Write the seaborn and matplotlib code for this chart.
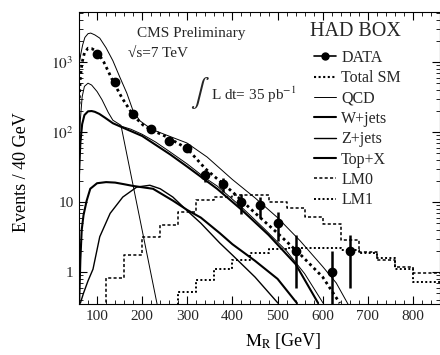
import seaborn as sns
import matplotlib.pyplot as plt
from matplotlib.lines import Line2D
from matplotlib.ticker import MultipleLocator, LogLocator, FuncFormatter, NullFormatter

sns.set_theme(style="ticks", rc={"xtick.direction": "in", "ytick.direction": "in"})
plt.rcParams['font.family'] = ['Liberation Serif', 'DejaVu Serif']
plt.rcParams['mathtext.fontset'] = 'stix'

# data points (M_R bin centres, events, sqrt(N) errors)
mr_data = [100, 140, 180, 220, 260, 300, 340, 380, 420, 460, 500, 540, 620, 660]
n_data = [1300, 520, 180, 110, 75, 59, 24, 18, 10, 9, 5, 2, 1, 2]
n_err = [36, 23, 13.4, 10.5, 8.7, 7.7, 4.9, 4.2, 3.2, 3.0, 2.2, 1.4, 0.999, 1.4]

# total SM prediction and its band edges
sm_x = [60, 63, 67, 72, 80, 88, 100, 115, 135, 155, 173, 190, 202, 220, 255, 300, 340, 400, 450, 500, 550, 600, 638]
sm_y = [250, 600, 1000, 1350, 1580, 1560, 1420, 1000, 540, 310, 205, 150, 126, 108, 85, 58, 30, 14, 7, 3.6, 1.8, 0.85, 0.36]
up_x = [60, 64, 68, 73, 80, 86, 95, 106, 120, 135, 150, 166, 180, 195, 211, 230, 255, 299, 344, 400, 450, 500, 550, 600, 630, 656]
up_y = [900, 1300, 1750, 2250, 2550, 2600, 2450, 2200, 1600, 1050, 620, 360, 200, 145, 122, 104, 90, 70, 44, 21, 11.5, 6.0, 2.8, 1.2, 0.7, 0.35]
lo_x = [151, 175, 200, 230, 262, 300, 340, 366, 420, 470, 520, 560, 601]
lo_y = [123, 110, 93, 72, 52, 35, 22, 17, 8.5, 4.2, 2.0, 0.95, 0.36]

# backgrounds
qcd_x = [60, 63, 67, 72, 80, 88, 100, 111, 125, 135, 153, 233]
qcd_y = [40, 150, 320, 450, 500, 470, 380, 290, 190, 148, 125, 0.35]
wj_x = [60, 63, 66, 70, 77, 85, 100, 120, 140, 160, 180, 224, 268, 300, 330, 372, 400, 450, 500, 543]
wj_y = [0.3, 1.5, 4, 6.5, 10.5, 15.5, 18.6, 19.3, 19, 18, 17, 15.5, 10.5, 7.7, 6.0, 3.6, 2.5, 1.45, 0.8, 0.36]
zj_x = [63, 70, 80, 91, 106, 129, 157, 188, 217, 240, 268, 300, 330, 372, 400, 450, 501]
zj_y = [0.36, 0.5, 0.75, 1.1, 3.2, 6.9, 11.8, 16.4, 17.4, 15.5, 11.8, 7.5, 5.0, 2.6, 1.75, 0.85, 0.36]
top_x = [60, 63, 67, 72, 80, 88, 95, 105, 118, 135, 157, 200, 262, 300, 366, 420, 480, 540, 590]
top_y = [25, 70, 130, 175, 198, 200, 195, 182, 160, 134, 116, 88, 48, 32, 15.5, 7.8, 3.4, 1.3, 0.36]

# signal histograms (40 GeV bins)
edges = [80, 120, 160, 200, 240, 280, 320, 360, 400, 440, 480, 520, 560, 600, 640, 680, 720, 760, 800, 840, 880]
lm0 = [0.01, 0.82, 1.74, 3.2, 4.7, 7.2, 10.7, 12, 12.6, 12.6, 10, 8.2, 6.1, 4.8, 2.9, 1.96, 1.48, 1.2, 0.96, 0.96]
lm1 = [0.01, 0.01, 0.01, 0.01, 0.01, 0.52, 0.78, 1.12, 1.48, 1.86, 2.15, 2.2, 2.2, 2.2, 2.1, 1.85, 1.6, 1.1, 0.72, 0.72]

fig = plt.figure(figsize=(4.4, 3.55), dpi=100)
ax = fig.add_axes([79 / 440, 51 / 355, 361 / 440, 292 / 355])
ax.set_yscale('log')

thin, thick = 0.7, 1.5
dot = (0, (1, 1.2))
sns.lineplot(x=up_x, y=up_y, ax=ax, color='black', lw=thin, legend=False)
sns.lineplot(x=lo_x, y=lo_y, ax=ax, color='black', lw=thin, legend=False)
sns.lineplot(x=qcd_x, y=qcd_y, ax=ax, color='black', lw=thin, legend=False)
sns.lineplot(x=wj_x, y=wj_y, ax=ax, color='black', lw=thick, legend=False)
sns.lineplot(x=zj_x, y=zj_y, ax=ax, color='black', lw=1.0, legend=False)
sns.lineplot(x=top_x, y=top_y, ax=ax, color='black', lw=thick, legend=False)
sns.lineplot(x=sm_x, y=sm_y, ax=ax, color='black', lw=2.0, linestyle=dot, legend=False)
sns.lineplot(x=edges, y=lm0 + [lm0[-1]], ax=ax, color='black', lw=1.1,
             linestyle=(0, (2, 1.5)), drawstyle='steps-post', legend=False)
sns.lineplot(x=edges, y=lm1 + [lm1[-1]], ax=ax, color='black', lw=1.4,
             linestyle=dot, drawstyle='steps-post', legend=False)
ax.errorbar(mr_data, n_data, yerr=n_err, fmt='o', color='black', ms=6,
            elinewidth=1.8, capsize=0, zorder=5)

ax.set_xlim(60, 860)
ax.set_ylim(0.35, 5200)
ax.xaxis.set_major_locator(MultipleLocator(100))
ax.xaxis.set_minor_locator(MultipleLocator(20))
ax.yaxis.set_major_locator(LogLocator(base=10))
ax.yaxis.set_minor_locator(LogLocator(base=10, subs=range(2, 10)))
ax.yaxis.set_minor_formatter(NullFormatter())
ylab = {1: '1', 10: '10', 100: '$10^2$', 1000: '$10^3$'}
ax.yaxis.set_major_formatter(FuncFormatter(lambda v, p: ylab.get(int(round(v)), '')))
ax.tick_params(which='both', top=True, right=True, color='black', labelsize=11, pad=4)
ax.tick_params(which='major', length=6, width=0.8)
ax.tick_params(which='minor', length=3, width=0.6)
for s in ax.spines.values():
    s.set_color('black')
    s.set_linewidth(0.8)

ax.set_xlabel('$\\mathrm{M_R}$ [GeV]', fontsize=13, color='black')
ax.set_ylabel('Events / 40 GeV', fontsize=13, color='black')
ax.xaxis.set_label_coords(0.565, -0.092)
ax.yaxis.set_label_coords(-0.136, 0.45)

fig.text(137 / 440, 1 - 33 / 355, 'CMS Preliminary', fontsize=11, va='center')
fig.text(128 / 440, 1 - 53 / 355, '√s=7 TeV', fontsize=11, va='center')
fig.text(190 / 440, 1 - 93 / 355, '$\\int$', fontsize=20, va='center')
fig.text(211 / 440, 1 - 95 / 355, 'L dt= 35 pb$^{-1}$', fontsize=11, va='center')
fig.text(310 / 440, 1 - 32 / 355, 'HAD BOX', fontsize=14.5, va='center')

handles = [
    Line2D([], [], color='black', lw=1.2, marker='o', ms=5),
    Line2D([], [], color='black', lw=1.5, linestyle=dot),
    Line2D([], [], color='black', lw=thin),
    Line2D([], [], color='black', lw=thick),
    Line2D([], [], color='black', lw=1.0),
    Line2D([], [], color='black', lw=thick),
    Line2D([], [], color='black', lw=1.1, linestyle=(0, (2, 1.5))),
    Line2D([], [], color='black', lw=1.4, linestyle=dot),
]
labels = ['DATA', 'Total SM', 'QCD', 'W+jets', 'Z+jets', 'Top+X', 'LM0', 'LM1']
fig.legend(handles, labels, loc='upper left', bbox_to_anchor=(314 / 440, 1 - 50 / 355),
           frameon=False, fontsize=11.5, handlelength=1.4, handletextpad=0.3,
           labelspacing=0.27, borderpad=0, borderaxespad=0)

plt.savefig('out.png', dpi=100, facecolor='white')
plt.close()
